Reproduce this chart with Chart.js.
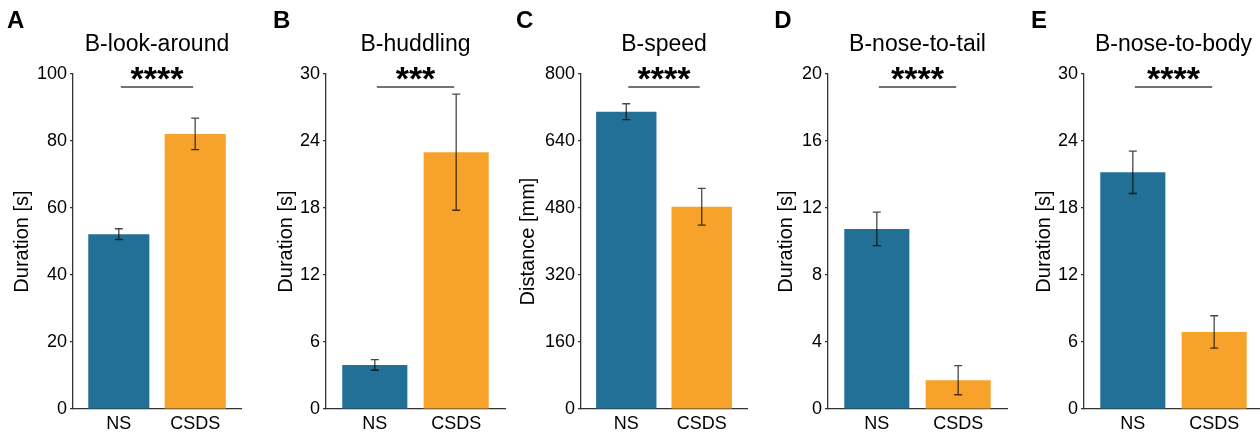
<!DOCTYPE html>
<html>
<head>
<meta charset="utf-8">
<script src="https://cdn.jsdelivr.net/npm/chart.js@4.4.1/dist/chart.umd.min.js"></script>
<style>
  html, body { margin: 0; padding: 0; background: #ffffff; }
  #wrap { position: relative; width: 1260px; height: 436px; overflow: hidden; background: #fff; }
  canvas { position: absolute; top: 0; }
</style>
</head>
<body>
<div id="wrap"></div>
<script>
// ---------------- data ----------------
const categories = ['NS', 'CSDS'];
const panelLetters = ['A', 'B', 'C', 'D', 'E'];
const panelTitles = ['B-look-around', 'B-huddling', 'B-speed', 'B-nose-to-tail', 'B-nose-to-body'];
const yAxisTitles = ['Duration [s]', 'Duration [s]', 'Distance [mm]', 'Duration [s]', 'Duration [s]'];
const lookAroundMean = [52.2, 82.1];
const lookAroundErr  = [1.6, 4.7];
const huddlingMean   = [3.95, 23.0];
const huddlingErr    = [0.48, 5.2];
const speedMean      = [710, 483];
const speedErr       = [19, 44];
const noseTailMean   = [10.75, 1.72];
const noseTailErr    = [1.0, 0.87];
const noseBodyMean   = [21.2, 6.9];
const noseBodyErr    = [1.9, 1.45];
const significance   = ['****', '***', '****', '****', '****'];
const yMaxes         = [100, 30, 800, 20, 30];
const yStepSizes     = [20, 6, 160, 4, 6];

const means = [lookAroundMean, huddlingMean, speedMean, noseTailMean, noseBodyMean];
const errs  = [lookAroundErr, huddlingErr, speedErr, noseTailErr, noseBodyErr];

// ---------------- layout (pixels) ----------------
const axisLeft   = [73, 326, 581, 827.7, 1084];
const barSpacing = [76, 81, 75.3, 81.3, 81];
const yTitleX    = [22.5, 286, 528, 786, 1044];
const letterX    = [7, 273, 516, 774, 1031];
const barColors  = ['#237096', '#f7a22b'];
const FONT = "'Liberation Sans', Arial, Helvetica, sans-serif";
const Y_AREA = 70;
const PAD_RIGHT = 6;

const wrap = document.getElementById('wrap');

const decorPlugin = {
  id: 'decor',
  afterDatasetsDraw(chart, args, opts) {
    const ctx = chart.ctx;
    const xs = chart.scales.x, ys = chart.scales.y;
    const m = opts.means, e = opts.errs;
    ctx.save();
    ctx.strokeStyle = 'rgba(0,0,0,0.72)';
    ctx.lineWidth = 1.3;
    for (let i = 0; i < m.length; i++) {
      const x = xs.getPixelForValue(i);
      const yHi = ys.getPixelForValue(m[i] + e[i]);
      const yLo = ys.getPixelForValue(m[i] - e[i]);
      ctx.beginPath();
      ctx.moveTo(x, yHi); ctx.lineTo(x, yLo);
      ctx.moveTo(x - 4, yHi); ctx.lineTo(x + 4, yHi);
      ctx.moveTo(x - 4, yLo); ctx.lineTo(x + 4, yLo);
      ctx.stroke();
    }
    ctx.restore();
  },
  afterDraw(chart, args, opts) {
    const ctx = chart.ctx;
    const xs = chart.scales.x;
    const area = chart.chartArea;
    const cx = (area.left + area.right) / 2;
    ctx.save();
    ctx.fillStyle = '#000';
    ctx.textAlign = 'center';
    ctx.textBaseline = 'alphabetic';
    ctx.font = '23px ' + FONT;
    ctx.fillText(opts.title, cx, 51);
    const x0 = xs.getPixelForValue(0) + 2;
    const x1 = xs.getPixelForValue(1) - 2;
    ctx.strokeStyle = '#444';
    ctx.lineWidth = 1.5;
    ctx.beginPath();
    ctx.moveTo(x0, area.top + 13);
    ctx.lineTo(x1, area.top + 13);
    ctx.stroke();
    ctx.font = 'bold 34px ' + FONT;
    ctx.fillText(opts.stars, (x0 + x1) / 2, 90);
    ctx.textAlign = 'left';
    ctx.font = 'bold 24px ' + FONT;
    ctx.fillText(opts.letter, opts.letterX, 28);
    ctx.restore();
  }
};

for (let p = 0; p < 5; p++) {
  const canvasLeft = axisLeft[p] - Y_AREA;
  const width = Math.ceil(Y_AREA + 2.2 * barSpacing[p] + PAD_RIGHT);
  const cv = document.createElement('canvas');
  cv.width = width; cv.height = 436;
  cv.style.left = canvasLeft + 'px';
  cv.style.width = width + 'px'; cv.style.height = '436px';
  wrap.appendChild(cv);

  const titlePad = yTitleX[p] - canvasLeft - 12;

  new Chart(cv.getContext('2d'), {
    type: 'bar',
    data: {
      datasets: [{
        data: categories.map((c, i) => ({ x: i, y: means[p][i] })),
        backgroundColor: barColors,
        borderWidth: 0,
        categoryPercentage: 1.0,
        barPercentage: 0.8
      }]
    },
    options: {
      responsive: false,
      animation: false,
      devicePixelRatio: 1,
      layout: { padding: { left: 0, right: PAD_RIGHT, top: 74, bottom: 0 } },
      plugins: {
        legend: { display: false },
        tooltip: { enabled: false },
        decor: {
          means: means[p], errs: errs[p],
          title: panelTitles[p], stars: significance[p],
          letter: panelLetters[p], letterX: letterX[p] - canvasLeft
        }
      },
      scales: {
        x: {
          type: 'linear',
          min: -0.6, max: 1.6,
          offset: false,
          grid: { display: false, offset: false },
          border: { display: true, color: '#333', width: 1.3 },
          afterBuildTicks: (s) => { s.ticks = categories.map((c, i) => ({ value: i })); },
          afterFit: (s) => { s.height = 27; },
          ticks: {
            color: '#000',
            padding: -4,
            maxRotation: 0,
            autoSkip: false,
            font: { family: FONT, size: 18 },
            callback: (v) => categories[v]
          }
        },
        y: {
          min: 0, max: yMaxes[p],
          grid: { display: true, drawOnChartArea: false, drawTicks: true, tickLength: 3, color: '#333', lineWidth: 1.2 },
          border: { display: true, color: '#333', width: 1.3 },
          afterFit: (s) => { s.width = Y_AREA; },
          ticks: {
            stepSize: yStepSizes[p],
            color: '#000',
            padding: 3,
            font: { family: FONT, size: 18 }
          },
          title: {
            display: true,
            text: yAxisTitles[p],
            color: '#000',
            font: { family: FONT, size: 20 },
            padding: { top: titlePad, bottom: 0 }
          }
        }
      }
    },
    plugins: [decorPlugin]
  });
}
</script>
</body>
</html>
